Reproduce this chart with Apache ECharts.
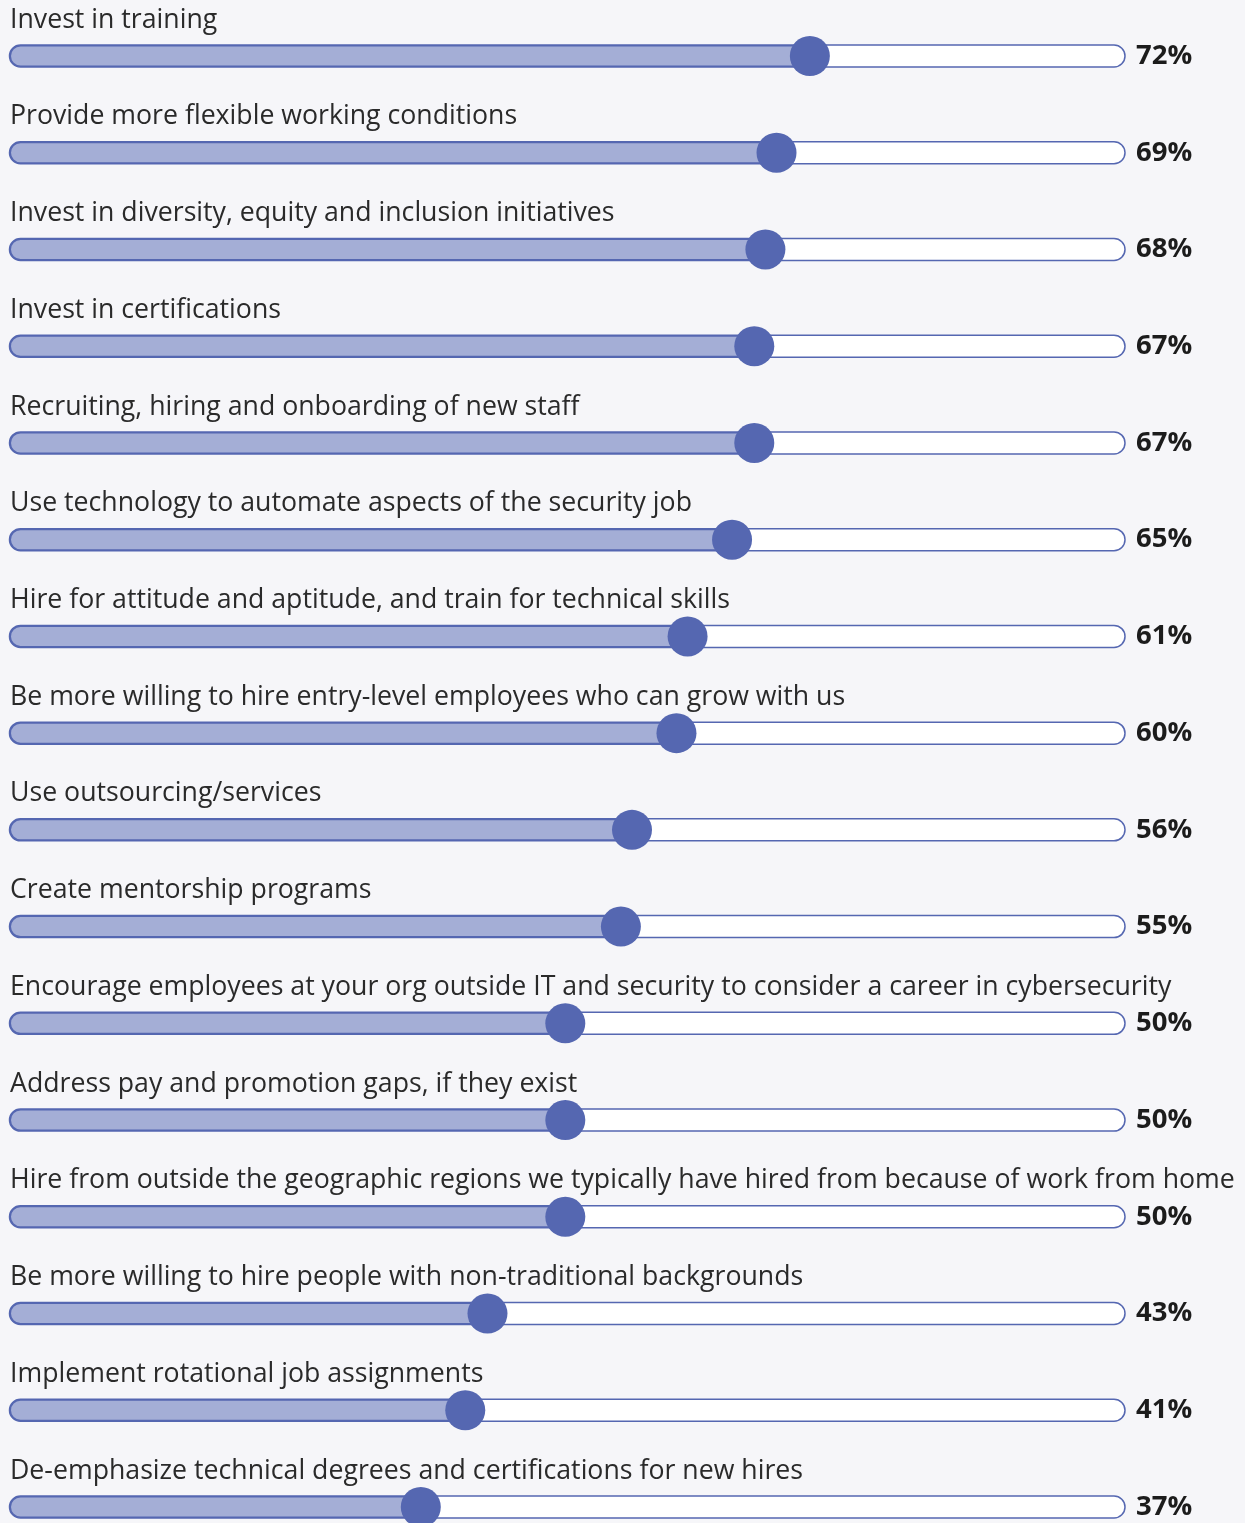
<!DOCTYPE html>
<html>
<head>
<meta charset="utf-8">
<script src="https://cdn.jsdelivr.net/npm/echarts@6/dist/echarts.min.js"></script>
<style>
html,body{margin:0;padding:0;background:#f6f6f9;}
#chart{width:1245px;height:1523px;}
</style>
</head>
<body>
<div id="chart"></div>
<script>
const categories = [
  "Invest in training",
  "Provide more flexible working conditions",
  "Invest in diversity, equity and inclusion initiatives",
  "Invest in certifications",
  "Recruiting, hiring and onboarding of new staff",
  "Use technology to automate aspects of the security job",
  "Hire for attitude and aptitude, and train for technical skills",
  "Be more willing to hire entry-level employees who can grow with us",
  "Use outsourcing/services",
  "Create mentorship programs",
  "Encourage employees at your org outside IT and security to consider a career in cybersecurity",
  "Address pay and promotion gaps, if they exist",
  "Hire from outside the geographic regions we typically have hired from because of work from home",
  "Be more willing to hire people with non-traditional backgrounds",
  "Implement rotational job assignments",
  "De-emphasize technical degrees and certifications for new hires"
];
const values = [72, 69, 68, 67, 67, 65, 61, 60, 56, 55, 50, 50, 50, 43, 41, 37];
const valueLabels = values.map(v => v + "%");

const chart = echarts.init(document.getElementById('chart'), null, {renderer: 'canvas'});
const option = {
  backgroundColor: '#f6f6f9',
  animation: false,
  grid: {left: 9.5, right: 120, top: 56, bottom: 16, containLabel: false},
  xAxis: {type: 'value', min: 0, max: 100.35, show: false},
  yAxis: [
    {
      type: 'category', data: categories, inverse: true, boundaryGap: false,
      axisLine: {show: false}, axisTick: {show: false}, splitLine: {show: false},
      axisLabel: {
        inside: true, margin: 0.5, align: 'left', verticalAlign: 'bottom',
        lineHeight: 30, padding: [0, 0, 21, 0],
        fontFamily: 'Open Sans', fontSize: 26.7, color: '#2a2a2a'
      }
    },
    {
      type: 'category', data: valueLabels, inverse: true, position: 'right', boundaryGap: false,
      axisLine: {show: false}, axisTick: {show: false}, splitLine: {show: false},
      axisLabel: {
        margin: 11, align: 'left', verticalAlign: 'middle',
        fontFamily: 'Open Sans', fontWeight: 'bold', fontSize: 27.5, color: '#1c1c1c'
      }
    }
  ],
  series: [
    {
      type: 'bar', data: values, yAxisIndex: 0, barWidth: 22, z: 2,
      showBackground: true,
      backgroundStyle: {color: '#ffffff', borderColor: '#5567b1', borderWidth: 1.5, borderRadius: 11},
      itemStyle: {color: '#a4aed6', borderColor: '#5567b1', borderWidth: 1.5, borderRadius: 11}
    },
    {
      type: 'scatter', yAxisIndex: 0, z: 5,
      data: values.map((v, i) => [v, i]),
      symbol: 'circle', symbolSize: 40,
      itemStyle: {color: '#5567b1', opacity: 1}
    }
  ]
};
chart.setOption(option);
</script>
</body>
</html>
